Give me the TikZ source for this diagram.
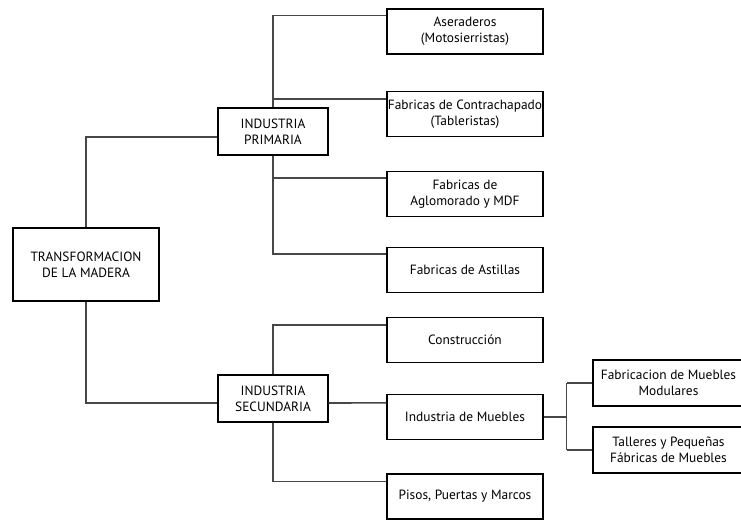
\documentclass[tikz,border=0pt]{standalone}
\usepackage{fontspec}
\setmainfont{PT Sans}
\begin{document}
\begin{tikzpicture}[x=1pt,y=-1pt,
 box/.style={draw=black, line width=1.3pt, align=center, inner sep=0pt,
   font=\fontsize{13.4}{16}\selectfont, text=black},
 root/.style={box, minimum width=146pt, minimum height=73pt},
 mid/.style={box, minimum width=110pt, minimum height=47pt},
 leaf/.style={box, minimum width=156pt, minimum height=45pt},
 sub/.style={box, minimum width=151pt, minimum height=46pt},
 conn/.style={draw=black!72, line width=1.6pt}]
\useasboundingbox[fill=white] (0,0) rectangle (741,520);

\node[root] (T) at (86,264.5) {TRANSFORMACION\\DE LA MADERA};
\node[mid] (P) at (273,131.5) {INDUSTRIA\\PRIMARIA};
\node[mid] (S) at (273,398.5) {INDUSTRIA\\SECUNDARIA};

\node[leaf] (A1) at (465,31.5) {Aseraderos\\(Motosierristas)};
\node[leaf] (A2) at (465,114) {Fabricas de Contrachapado\\(Tableristas)};
\node[leaf] (A3) at (465,194) {Fabricas de\\Aglomorado y MDF};
\node[leaf] (A4) at (465,270) {Fabricas de Astillas};

\node[leaf] (B1) at (465,340) {Construcción};
\node[leaf] (B2) at (465,417) {Industria de Muebles};
\node[leaf] (B3) at (465,496.5) {Pisos, Puertas y Marcos};

\node[sub] (C1) at (668.5,383) {Fabricacion de Muebles\\Modulares};
\node[sub] (C2) at (668.5,450) {Talleres y Pequeñas\\Fábricas de Muebles};

% attachment points
\coordinate (a1) at ([yshift=-7pt]A1.north west);
\coordinate (a2) at ([yshift=-8pt]A2.north west);
\coordinate (a3) at ([yshift=-7pt]A3.north west);
\coordinate (a4) at ([yshift=-7pt]A4.north west);
\coordinate (b1) at ([yshift=-8pt]B1.north west);
\coordinate (b2) at ([yshift=-9pt]B2.north west);
\coordinate (b3) at ([yshift=-8pt]B3.north west);
\coordinate (m) at ([xshift=23pt]B2.east);

% root to industries
\draw[conn] (T.north) |- ([yshift=-5.5pt]P.west);
\draw[conn] (T.south) |- ([yshift=-4.5pt]S.west);

% primaria
\draw[conn] (P.north) |- (a1);
\draw[conn] (P.north |- a2) -- (a2);
\draw[conn] (P.south) |- (a4);
\draw[conn] (P.south |- a3) -- (a3);

% secundaria
\draw[conn] (S.north) |- (b1);
\draw[conn] ([yshift=-4.5pt]S.east) -- (b2);
\draw[conn] (S.south) |- (b3);

% muebles
\draw[conn] (B2.east) -- (m);
\draw[conn] (m |- C1.west) -- (m |- C2.west);
\draw[conn] (m |- C1.west) -- (C1.west);
\draw[conn] (m |- C2.west) -- (C2.west);
\end{tikzpicture}
\end{document}
